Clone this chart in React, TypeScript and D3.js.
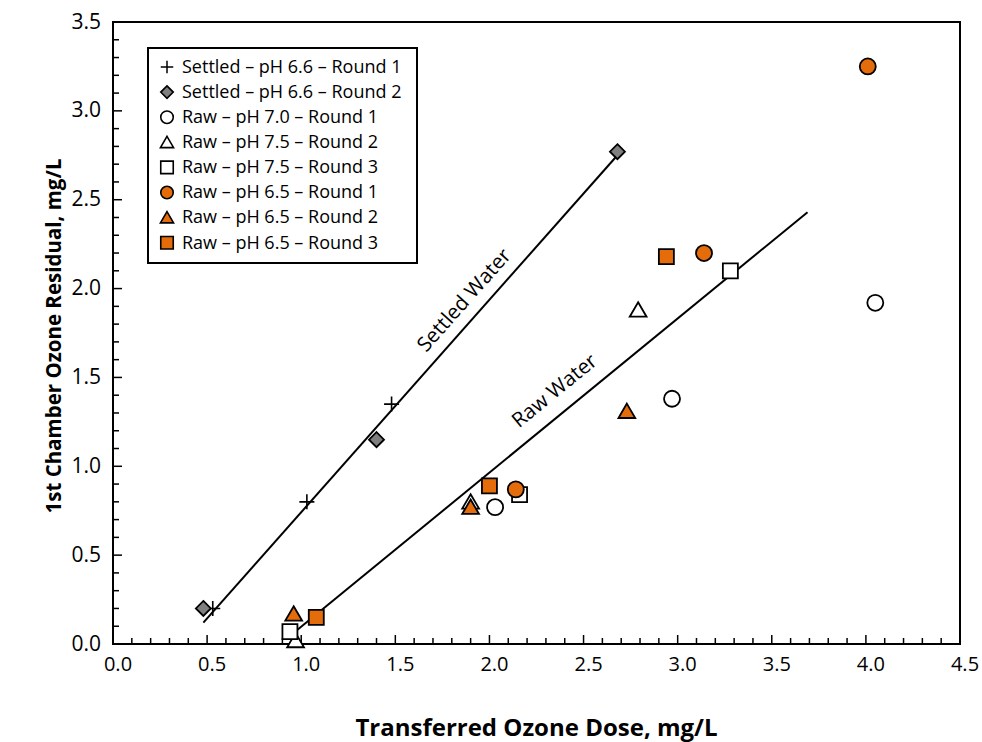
import React from "react";
import * as d3 from "d3";

// series: [dose, residual]
const settledR1 = [[0.53, 0.2], [1.03, 0.8], [1.48, 1.35]];
const settledR2 = [[0.48, 0.2], [1.4, 1.15], [2.68, 2.77]];
const raw70R1 = [[2.03, 0.77], [2.97, 1.38], [4.05, 1.92]];
const raw75R2 = [[0.97, 0.02], [1.9, 0.8], [2.79, 1.88]];
const raw75R3 = [[0.94, 0.07], [2.16, 0.84], [3.28, 2.1]];
const raw65R1 = [[2.14, 0.87], [3.14, 2.2], [4.01, 3.25]];
const raw65R2 = [[0.96, 0.17], [1.9, 0.77], [2.73, 1.31]];
const raw65R3 = [[1.08, 0.15], [2.0, 0.89], [2.94, 2.18]];

const seriesNames = [
  "Settled – pH 6.6 – Round 1",
  "Settled – pH 6.6 – Round 2",
  "Raw – pH 7.0 – Round 1",
  "Raw – pH 7.5 – Round 2",
  "Raw – pH 7.5 – Round 3",
  "Raw – pH 6.5 – Round 1",
  "Raw – pH 6.5 – Round 2",
  "Raw – pH 6.5 – Round 3",
];

// trend lines (endpoints)
const settledFitX = [0.48, 2.68];
const settledFitY = [0.12, 2.75];
const rawFitX = [0.98, 3.69];
const rawFitY = [0.08, 2.43];

const xTicks = [0, 0.5, 1, 1.5, 2, 2.5, 3, 3.5, 4, 4.5];
const yTicks = [0, 0.5, 1, 1.5, 2, 2.5, 3, 3.5];

const ORANGE = "#E46C0A";
const GRAY = "#7F7F7F";
const FONT = "'Open Sans', sans-serif";

const width = 982;
const height = 742;
const margin = { top: 22, right: 22, bottom: 98, left: 113 };

const x = d3.scaleLinear().domain([0, 4.5]).range([margin.left, width - margin.right]);
const y = d3.scaleLinear().domain([0, 3.5]).range([height - margin.bottom, margin.top]);

function shapePath(kind: string, s: number) {
  const h = s / 2;
  switch (kind) {
    case "plus":
      return `M${-h},0H${h}M0,${-h}V${h}`;
    case "diamond":
      return `M0,${-h}L${h},0L0,${h}L${-h},0Z`;
    case "triangle":
      return `M0,${-h * 0.95}L${h * 1.05},${h * 0.85}L${-h * 1.05},${h * 0.85}Z`;
    case "square":
      return `M${-h},${-h}H${h}V${h}H${-h}Z`;
    default:
      return d3.arc()({ innerRadius: 0, outerRadius: h, startAngle: 0, endAngle: 2 * Math.PI }) as string;
  }
}

const series = [
  { data: settledR1, kind: "plus", fill: "none", size: 15 },
  { data: settledR2, kind: "diamond", fill: GRAY, size: 15 },
  { data: raw70R1, kind: "circle", fill: "#fff", size: 16 },
  { data: raw75R2, kind: "triangle", fill: "#fff", size: 16 },
  { data: raw75R3, kind: "square", fill: "#fff", size: 15 },
  { data: raw65R1, kind: "circle", fill: ORANGE, size: 16 },
  { data: raw65R2, kind: "triangle", fill: ORANGE, size: 16 },
  { data: raw65R3, kind: "square", fill: ORANGE, size: 15 },
];

function fitLabel(fx: number[], fy: number[], cx: number, cy: number, text: string) {
  const ang = (Math.atan2(y(fy[1]) - y(fy[0]), x(fx[1]) - x(fx[0])) * 180) / Math.PI;
  return (
    <text
      transform={`translate(${x(cx)},${y(cy)}) rotate(${ang})`}
      textAnchor="middle"
      dominantBaseline="middle"
      fontSize={20.5}
      fontFamily={FONT}
      fill="#000"
    >
      {text}
    </text>
  );
}

export default function App() {
  const plotBottom = y(0);
  const minorX = d3.range(0, 45).map((i) => i / 10);
  const minorY = d3.range(0, 35).map((i) => i / 10);

  return (
    <svg
      width={width}
      height={height}
      style={{ position: "absolute", left: 0, top: 0, display: "block", background: "#fff" }}
    >
      <rect x={0} y={0} width={width} height={height} fill="#fff" />

      {/* x ticks, inward */}
      {minorX.map((v, i) => (
        <line
          key={"mx" + i}
          x1={x(v)}
          x2={x(v)}
          y1={plotBottom}
          y2={plotBottom - (i % 5 === 0 ? 9 : 6)}
          stroke="#000"
          strokeWidth={1.5}
        />
      ))}
      {/* y ticks, inward */}
      {minorY.map((v, i) => (
        <line
          key={"my" + i}
          x1={x(0)}
          x2={x(0) + (i % 5 === 0 ? 9 : 6)}
          y1={y(v)}
          y2={y(v)}
          stroke="#000"
          strokeWidth={1.5}
        />
      ))}

      {/* plot border */}
      <rect
        x={x(0)}
        y={y(3.5)}
        width={x(4.5) - x(0)}
        height={y(0) - y(3.5)}
        fill="none"
        stroke="#000"
        strokeWidth={2}
      />

      {xTicks.map((v) => (
        <text
          key={"xt" + v}
          x={x(v) + 5}
          y={plotBottom + 27}
          textAnchor="middle"
          fontSize={20}
          fontFamily={FONT}
          fill="#000"
        >
          {v.toFixed(1)}
        </text>
      ))}
      {yTicks.map((v) => (
        <text
          key={"yt" + v}
          x={x(0) - 12}
          y={y(v) + 1}
          textAnchor="end"
          dominantBaseline="middle"
          fontSize={21}
          fontFamily={FONT}
          fill="#000"
        >
          {v.toFixed(1)}
        </text>
      ))}

      <text
        x={(x(0) + x(4.5)) / 2}
        y={736}
        textAnchor="middle"
        fontSize={24}
        fontWeight="bold"
        fontFamily={FONT}
        fill="#000"
      >
        Transferred Ozone Dose, mg/L
      </text>
      <text
        transform={`translate(56,${(y(0) + y(3.5)) / 2 + 3}) rotate(-90)`}
        textAnchor="middle"
        dominantBaseline="middle"
        fontSize={20.5}
        fontWeight="bold"
        fontFamily={FONT}
        fill="#000"
      >
        1st Chamber Ozone Residual, mg/L
      </text>

      {/* trend lines */}
      <path
        d={d3.line()(settledFitX.map((v, i) => [x(v), y(settledFitY[i])]) as [number, number][]) || ""}
        stroke="#000"
        strokeWidth={2}
        fill="none"
      />
      <path
        d={d3.line()(rawFitX.map((v, i) => [x(v), y(rawFitY[i])]) as [number, number][]) || ""}
        stroke="#000"
        strokeWidth={2}
        fill="none"
      />
      {fitLabel(settledFitX, settledFitY, 1.87, 1.93, "Settled Water")}
      {fitLabel(rawFitX, rawFitY, 2.35, 1.42, "Raw Water")}

      {/* points */}
      {series.map((s, si) =>
        s.data.map((d, i) => (
          <path
            key={`p${si}-${i}`}
            transform={`translate(${x(d[0])},${y(d[1])})`}
            d={shapePath(s.kind, s.size)}
            fill={s.fill}
            stroke="#000"
            strokeWidth={s.kind === "plus" ? 1.6 : 1.8}
          />
        ))
      )}

      {/* legend */}
      <rect x={148} y={48} width={269} height={215} fill="#fff" stroke="#000" strokeWidth={2} />
      {seriesNames.map((name, i) => (
        <g key={"lg" + i} transform={`translate(167,${67 + i * 25.1})`}>
          <path
            d={shapePath(series[i].kind, 12.5)}
            fill={series[i].fill}
            stroke="#000"
            strokeWidth={series[i].kind === "plus" ? 1.5 : 1.6}
          />
          <text x={15} y={1} dominantBaseline="middle" fontSize={18} fontFamily={FONT} fill="#000">
            {name}
          </text>
        </g>
      ))}
    </svg>
  );
}
